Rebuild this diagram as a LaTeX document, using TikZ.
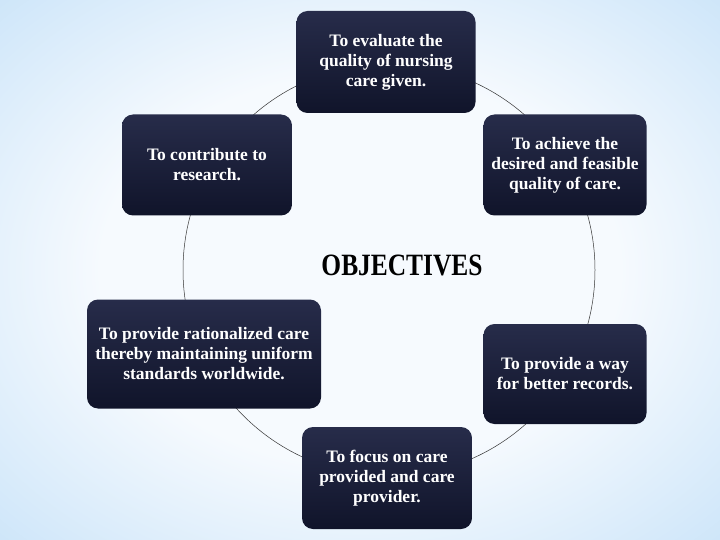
\documentclass[tikz,border=0pt]{standalone}
\usepackage{fontspec}
\usepackage{graphicx}
\setmainfont{Liberation Serif}
\definecolor{navytop}{HTML}{272C4A}
\definecolor{navybot}{HTML}{10142A}
\definecolor{skyedge}{HTML}{ADD5F5}
\definecolor{skymid}{HTML}{F6FAFE}
\pgfdeclareradialshading{skybg}{\pgfpoint{0bp}{0bp}}{color(0bp)=(skymid); color(18bp)=(skymid); color(50bp)=(skyedge); color(70bp)=(skyedge)}
\begin{document}
\begin{tikzpicture}[x=1pt,y=-1pt,
  obj node/.style={rectangle,rounded corners=11pt,top color=navytop,bottom color=navybot,
    text=white,align=center,inner sep=0pt,font=\fontsize{17.5}{20}\selectfont\bfseries}]
  \useasboundingbox (0,0) rectangle (720,540);
  \shade[shading=skybg] (0,0) rectangle (720,540);
  \coordinate (c) at (389,270);
  \draw[black!80,line width=0.5pt] (c) circle[radius=206];

  \node[obj node,minimum width=179pt,minimum height=102pt] (1) at (386,62)
    {To evaluate the\\quality of nursing\\care given.};
  \node[obj node,minimum width=163pt,minimum height=101pt] (2) at (565,165)
    {To achieve the\\desired and feasible\\quality of care.};
  \node[obj node,minimum width=163pt,minimum height=100pt] (3) at (565,374)
    {To provide a way\\for better records.};
  \node[obj node,minimum width=170pt,minimum height=102pt] (4) at (387,478)
    {To focus on care\\provided and care\\provider.};
  \node[obj node,minimum width=234pt,minimum height=109pt] (5) at (204,354)
    {To provide rationalized care\\thereby maintaining uniform\\standards worldwide.};
  \node[obj node,minimum width=170pt,minimum height=101pt] (6) at (207,165)
    {To contribute to\\research.};

  \node[font=\fontsize{31}{34}\selectfont\bfseries] (obj) at (402,265)
    {\scalebox{0.82}[1]{OBJECTIVES}};
\end{tikzpicture}
\end{document}
